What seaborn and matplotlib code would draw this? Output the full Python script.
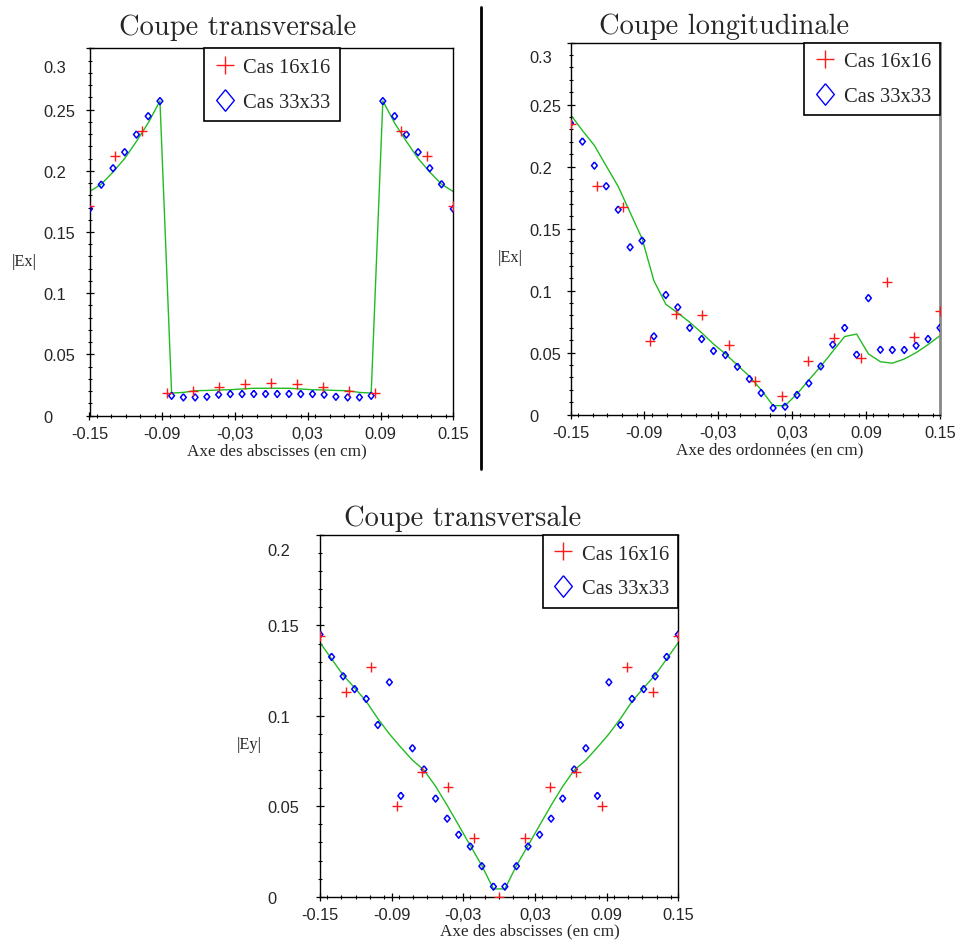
import numpy as np
import pandas as pd
import matplotlib
matplotlib.use("Agg")
import matplotlib.pyplot as plt
from matplotlib.lines import Line2D
from matplotlib.ticker import MultipleLocator
import seaborn as sns

# ---------------- data ----------------
x33 = [-0.15, -0.1403, -0.1306, -0.1210, -0.1113, -0.1016, -0.0919, -0.0823,
       -0.0726, -0.0629, -0.0532, -0.0435, -0.0339, -0.0242, -0.0145, -0.0048,
       0.0048, 0.0145, 0.0242, 0.0339, 0.0435, 0.0532, 0.0629, 0.0726,
       0.0823, 0.0919, 0.1016, 0.1113, 0.1210, 0.1306, 0.1403, 0.15]
x16 = [-0.15, -0.1286, -0.1071, -0.0857, -0.0643, -0.0429, -0.0214, 0.0,
       0.0214, 0.0429, 0.0643, 0.0857, 0.1071, 0.1286, 0.15]

# Plot 1 : Coupe transversale |Ex|
ex_t_ref = [0.183, 0.189, 0.199, 0.210, 0.224, 0.239, 0.257, 0.0185,
            0.0190, 0.0204, 0.0206, 0.0210, 0.0212, 0.0218, 0.0224, 0.0224,
            0.0224, 0.0224, 0.0218, 0.0212, 0.0210, 0.0206, 0.0204, 0.0190,
            0.0185, 0.257, 0.239, 0.224, 0.210, 0.199, 0.189, 0.183]
ex_t_33 = [0.1689, 0.1887, 0.2021, 0.2152, 0.2296, 0.2446, 0.2569, 0.0163,
           0.0150, 0.0150, 0.0155, 0.0172, 0.0177, 0.0177, 0.0178, 0.0178,
           0.0178, 0.0178, 0.0177, 0.0177, 0.0172, 0.0155, 0.0150, 0.0150,
           0.0163, 0.2569, 0.2446, 0.2296, 0.2152, 0.2021, 0.1890, 0.1689]
ex_t_16 = [0.171, 0.212, 0.2323, 0.0183, 0.0205, 0.0232, 0.0256, 0.0267,
           0.0256, 0.0232, 0.0205, 0.0183, 0.2323, 0.212, 0.171]

# Plot 2 : Coupe longitudinale |Ex|
ex_l_ref = [0.242, 0.229, 0.217, 0.2005, 0.184, 0.163, 0.142, 0.108,
            0.089, 0.082, 0.0745, 0.066, 0.057, 0.049, 0.040, 0.031,
            0.020, 0.0073, 0.0073, 0.0167, 0.028, 0.039, 0.051, 0.063,
            0.065, 0.049, 0.0427, 0.0415, 0.0449, 0.050, 0.0565, 0.0637]
ex_l_33 = [0.235, 0.2202, 0.2008, 0.1842, 0.1653, 0.135, 0.1403, 0.0632,
           0.0965, 0.0866, 0.070, 0.061, 0.0514, 0.0481, 0.0387, 0.0288,
           0.0175, 0.0054, 0.0065, 0.0159, 0.0253, 0.039, 0.0565, 0.070,
           0.0484, 0.094, 0.0524, 0.0522, 0.0522, 0.0557, 0.061, 0.070]
ex_l_16 = [0.2344, 0.1847, 0.1672, 0.0592, 0.0812, 0.0804, 0.0562, 0.0269,
           0.0148, 0.043, 0.0619, 0.0457, 0.1068, 0.0629, 0.0839]

# Plot 3 : Coupe transversale |Ey|
ey_t_ref = [0.1405, 0.1315, 0.1225, 0.1155, 0.108, 0.0985, 0.090, 0.0826,
            0.0755, 0.0700, 0.0610, 0.0505, 0.0395, 0.0283, 0.0172, 0.0043,
            0.0043, 0.0172, 0.0283, 0.0395, 0.0505, 0.0610, 0.0700, 0.0755,
            0.0826, 0.090, 0.0985, 0.108, 0.1155, 0.1225, 0.1315, 0.1405]
ey_t_33 = [0.145, 0.1326, 0.1219, 0.1148, 0.1094, 0.095, 0.1186, 0.0558,
           0.0821, 0.0704, 0.0543, 0.0432, 0.0343, 0.0278, 0.0169, 0.0056,
           0.0056, 0.0169, 0.0278, 0.0343, 0.0432, 0.0543, 0.0704, 0.0821,
           0.0558, 0.1186, 0.095, 0.1094, 0.1148, 0.1219, 0.1326, 0.145]
ey_t_16 = [0.144, 0.1132, 0.127, 0.05, 0.0691, 0.0608, 0.0326, 0.0,
           0.0326, 0.0608, 0.0691, 0.05, 0.127, 0.1132, 0.144]

xticks = [-0.15, -0.09, -0.03, 0.03, 0.09, 0.15]
xticklabels = ["-0.15", "-0.09", "-0,03", "0,03", "0.09", "0.15"]
yticks_ex = [0, 0.05, 0.1, 0.15, 0.2, 0.25, 0.3]
yticklabels_ex = ["0", "0.05", "0.1", "0.15", "0.2", "0.25", "0.3"]
yticks_ey = [0, 0.05, 0.1, 0.15, 0.2]
yticklabels_ey = ["0", "0.05", "0.1", "0.15", "0.2"]

titles = ["Coupe transversale", "Coupe longitudinale", "Coupe transversale"]
xlabels = ["Axe des abscisses (en cm)", "Axe des ordonnées (en cm)", "Axe des abscisses (en cm)"]
ylabels = ["|Ex|", "|Ex|", "|Ey|"]
legend_labels = ["Cas 16x16", "Cas 33x33"]

# ---------------- style ----------------
GREEN = "#22bb22"
RED = "#ff1a1a"
BLUE = "#0000ff"
SERIF = "Liberation Serif"
SANS = "Liberation Sans"
TITLE_FONT = "cmr10"

W, H = 956, 945
fig = plt.figure(figsize=(W / 100, H / 100), dpi=100)
sns.set_style("ticks")


def fx(px):
    return px / W


def fy(py):
    return 1 - py / H


def axes_px(l, t, r, b):
    return fig.add_axes([fx(l), fy(b), (r - l) / W, (b - t) / H])


diamond = [(0, 1), (0.82, 0), (0, -1), (-0.82, 0), (0, 1)]

ax1 = axes_px(89.5, 49.3, 453.3, 416.7)
ax2 = axes_px(570.5, 43.5, 940, 415.7)
ax3 = axes_px(320, 536, 678.3, 897.7)

panels = [
    (ax1, ex_t_ref, ex_t_33, ex_t_16, yticks_ex, yticklabels_ex, 0.3, 46.6, 19),
    (ax2, ex_l_ref, ex_l_33, ex_l_16, yticks_ex, yticklabels_ex, 0.3, 41.4, 15),
    (ax3, ey_t_ref, ey_t_33, ey_t_16, yticks_ey, yticklabels_ey, 0.2, 52.7, 15.5),
]

PX2PT = 72 / 100

for ax, ref, v33, v16, yt, ytl, ymax, lab_off, top_shift in panels:
    sns.lineplot(x=x33, y=ref, ax=ax, color=GREEN, linewidth=1.0,
                 estimator=None, sort=False, zorder=2)
    sns.scatterplot(x=x33, y=v33, ax=ax, marker=diamond, s=26,
                    facecolor="none", edgecolor=BLUE, linewidth=1.1, zorder=3)
    sns.scatterplot(x=x16, y=v16, ax=ax, marker="+", s=45,
                    color=RED, linewidth=1.0, zorder=4)
    ax.set_xlim(-0.15, 0.15)
    ax.set_ylim(0, ymax)
    ax.set_xticks(xticks)
    ax.set_xticklabels(xticklabels, fontfamily=SANS, fontsize=11.8)
    ax.set_yticks(yt)
    ax.set_yticklabels(ytl[:-1] + [""], fontfamily=SANS, fontsize=11.8)
    for lbl in ax.get_yticklabels():
        lbl.set_ha("left")
    ax.xaxis.set_minor_locator(MultipleLocator(0.012))
    ax.yaxis.set_minor_locator(MultipleLocator(0.01))
    ax.tick_params(which="major", direction="inout", length=5.3, width=0.9, color="black")
    ax.tick_params(which="minor", direction="inout", length=3.0, width=0.8, color="black")
    ax.tick_params(axis="x", which="major", pad=4.5)
    ax.tick_params(axis="y", which="major", pad=(lab_off - 3.7) * PX2PT)
    ax.tick_params(top=False, right=False, which="both")
    # top tick label drawn slightly below its tick, as in the reference
    ax.annotate(ytl[-1], xy=(0, ymax), xycoords=("axes fraction", "data"),
                xytext=(-lab_off * PX2PT, -top_shift * PX2PT), textcoords="offset points",
                ha="left", va="center", fontfamily=SANS, fontsize=11.8)
    for sp in ax.spines.values():
        sp.set_visible(True)
        sp.set_color("black")
        sp.set_linewidth(1.0)
    ax.set_xlabel("")
    ax.set_ylabel("")

ax2.spines["right"].set_color("#888888")
ax2.spines["right"].set_linewidth(2.0)

# Legends
handles = [
    Line2D([], [], linestyle="none", marker="+", markersize=12.5, markeredgewidth=1.0, color=RED),
    Line2D([], [], linestyle="none", marker=diamond, markersize=15.5, markeredgewidth=1.0,
           markerfacecolor="none", markeredgecolor=BLUE),
]
leg_specs = [
    (ax1, "upper center", (0.501, 1.0)),
    (ax2, "upper right", (1.0, 1.0)),
    (ax3, "upper right", (1.0, 1.0)),
]
for ax, loc, anchor in leg_specs:
    leg = ax.legend(handles, legend_labels, loc=loc, bbox_to_anchor=anchor,
                    borderaxespad=0, frameon=True, fancybox=False,
                    prop={"family": SERIF, "size": 14.8}, handlelength=1.1,
                    handletextpad=0.35, labelspacing=0.75, borderpad=0.45)
    leg.get_frame().set_edgecolor("black")
    leg.get_frame().set_linewidth(1.2)
    leg.get_frame().set_alpha(1)

# Titles
for (cx, by), t in zip([(238, 35), (724, 34.5), (463, 526)], titles):
    fig.text(fx(cx), fy(by), t, ha="center", va="baseline",
             fontfamily=TITLE_FONT, fontsize=20.5)

# X labels
for (cx, cy), t in zip([(277, 451.7), (770, 450), (530, 931.7)], xlabels):
    fig.text(fx(cx), fy(cy), t, ha="center", va="center",
             fontfamily=SERIF, fontsize=12.3)

# Y labels
for (cx, cy), t in zip([(24, 262), (510.5, 258), (249, 745)], ylabels):
    fig.text(fx(cx), fy(cy), t, ha="center", va="center",
             fontfamily=SERIF, fontsize=11.8)

# separator line between the two upper panels
fig.add_artist(Line2D([fx(481.5), fx(481.5)], [fy(8), fy(470)], color="black", linewidth=2.0))

fig.savefig("out.png", dpi=100)
